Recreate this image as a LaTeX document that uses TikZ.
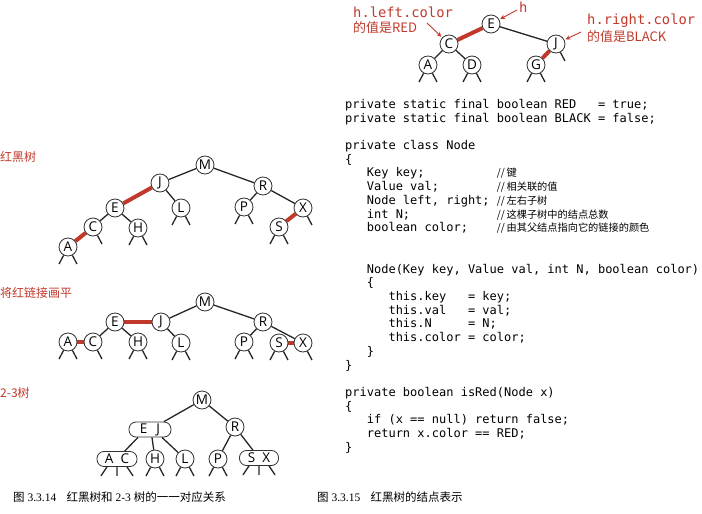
\documentclass[tikz,border=0pt]{standalone}
\usepackage{fontspec}
\usepackage{tikz}
\usetikzlibrary{arrows.meta, positioning, backgrounds}
\setmainfont{Liberation Serif}
\newfontfamily\cjk{Noto Sans CJK SC}
\newfontfamily\codefont{DejaVu Sans Mono}
\newfontfamily\keyfont{Open Sans}
\definecolor{linkred}{RGB}{192, 57, 43}
\definecolor{nodeline}{RGB}{50, 50, 50}

\tikzset{
  key/.style={circle, draw=nodeline, line width=0.8pt, fill=white, minimum size=18pt,
    inner sep=0pt, font=\keyfont\fontsize{13.5}{14}\selectfont},
  keys/.style={rectangle, rounded corners=7pt, draw=nodeline, line width=0.8pt, fill=white,
    minimum height=15pt, inner sep=0pt, font=\keyfont\fontsize{13.5}{14}\selectfont},
  link/.style={line width=1.3pt, black!85},
  redlink/.style={line width=4pt, linkred},
  tag/.style={text=linkred, inner sep=0pt, anchor=west, font=\cjk\fontsize{12}{14}\selectfont},
  codetag/.style={text=linkred, inner sep=0pt, anchor=west, font=\codefont\fontsize{13.8}{16}\selectfont},
  valtag/.style={text=linkred, inner sep=0pt, anchor=west, font=\cjk\fontsize{13}{16}\selectfont},
  pointer/.style={linkred, line width=0.9pt, shorten >=1pt, -{Stealth[length=5pt,width=4.5pt]}},
  caption/.style={inner sep=0pt, anchor=west, font=\fontsize{11.5}{14}\selectfont},
  codeblock/.style={inner sep=0pt, anchor=north west, align=left,
    font=\codefont\fontsize{12}{13.72}\selectfont}
}
\newcommand{\nulls}[1]{\draw[link] (#1) -- +(-9,17) (#1) -- +(9,17);}
\newcommand{\nullR}[1]{\draw[link] (#1) -- +(9,17);}
\newcommand{\cmt}[1]{{\cjk\fontsize{10.2}{13.72}\selectfont //\,#1}}

\begin{document}
\begin{tikzpicture}[x=1pt, y=-1pt]
    \useasboundingbox (0,0) rectangle (702,514);

    % Node h with its two links
    \node[key] (hE) at (491,24) {E};
    \node[key] (hC) at (449,44) {C};
    \node[key] (hA) at (428,65) {A};
    \node[key] (hD) at (472,65) {D};
    \node[key] (hJ) at (556,44) {J};
    \node[key] (hG) at (536,65) {G};
    \begin{scope}[on background layer]
        \draw[redlink] (hE) -- (hC);
        \draw[link] (hE) -- (hJ);
        \draw[link] (hC) -- (hA);
        \draw[link] (hC) -- (hD);
        \draw[redlink] (hJ) -- (hG);
    \end{scope}
    \nulls{hA} \nulls{hD} \nulls{hG} \nullR{hJ}

    % Labels pointing into the tree
    \node[codetag] (hleft) at (353,12) {h.left.color};
    \node[valtag] (hleftval) at (353,28) {的值是RED};
    \node[codetag] (hname) at (519,7) {h};
    \node[codetag] (hright) at (587,21) {h.right.color};
    \node[valtag] (hrightval) at (587,37) {的值是BLACK};
    \coordinate (pleft) at (427,23);
    \coordinate (pname) at (517,10);
    \coordinate (pright) at (581,32);
    \draw[pointer] (pleft) -- (hC);
    \draw[pointer] (pname) -- (hE);
    \draw[pointer] (pright) -- (hJ);

    % Red-black tree
    \node[tag] (rbname) at (0,157) {红黑树};
    \node[key] (M1) at (205,165) {M};
    \node[key] (J1) at (160,183) {J};
    \node[key] (R1) at (263,186) {R};
    \node[key] (E1) at (115,208) {E};
    \node[key] (L1) at (181,208) {L};
    \node[key] (P1) at (244,207) {P};
    \node[key] (X1) at (303,208) {X};
    \node[key] (C1) at (93,227) {C};
    \node[key] (H1) at (138,228) {H};
    \node[key] (S1) at (279,227) {S};
    \node[key] (A1) at (68,247) {A};
    \begin{scope}[on background layer]
        \draw[link] (M1) -- (J1);
        \draw[link] (M1) -- (R1);
        \draw[redlink] (J1) -- (E1);
        \draw[link] (J1) -- (L1);
        \draw[link] (E1) -- (C1);
        \draw[link] (E1) -- (H1);
        \draw[redlink] (C1) -- (A1);
        \draw[link] (R1) -- (P1);
        \draw[link] (R1) -- (X1);
        \draw[redlink] (X1) -- (S1);
    \end{scope}
    \nulls{A1} \nullR{C1} \nulls{H1} \nulls{L1} \nulls{P1} \nulls{S1} \nullR{X1}

    % Same tree with red links flat
    \node[tag] (flatname) at (0,293) {将红链接画平};
    \node[key] (M2) at (205,302) {M};
    \node[key] (E2) at (115,322) {E};
    \node[key] (J2) at (161,322) {J};
    \node[key] (R2) at (263,322) {R};
    \node[key] (A2) at (68,342) {A};
    \node[key] (C2) at (93,342) {C};
    \node[key] (H2) at (138,342) {H};
    \node[key] (L2) at (181,343) {L};
    \node[key] (P2) at (244,342) {P};
    \node[key] (S2) at (279,343) {S};
    \node[key] (X2) at (303,343) {X};
    \begin{scope}[on background layer]
        \draw[link] (M2) -- (J2);
        \draw[link] (M2) -- (R2);
        \draw[redlink] (J2) -- (E2);
        \draw[link] (J2) -- (L2);
        \draw[link] (E2) -- (C2);
        \draw[link] (E2) -- (H2);
        \draw[redlink] (C2) -- (A2);
        \draw[link] (R2) -- (P2);
        \draw[link] (R2) -- (X2);
        \draw[redlink] (X2) -- (S2);
    \end{scope}
    \nulls{A2} \nullR{C2} \nulls{H2} \nulls{L2} \nulls{P2} \nulls{S2} \nullR{X2}

    % 2-3 tree
    \node[tag] (ttname) at (0,393) {2-3树};
    \node[key] (M3) at (202,400) {M};
    \node[keys, minimum width=42pt] (EJ3) at (150,429.5) {E\hspace{9pt}J};
    \node[key] (R3) at (235,427) {R};
    \node[keys, minimum width=40pt] (AC3) at (117,459) {A\hspace{7pt}C};
    \node[key] (H3) at (155,459) {H};
    \node[key] (L3) at (185,459) {L};
    \node[key] (P3) at (218,459) {P};
    \node[keys, minimum width=39pt] (SX3) at (259,458) {S\hspace{7pt}X};
    \draw[link] (M3) -- (EJ3);
    \draw[link] (M3) -- (R3);
    \draw[link] ([xshift=-12pt]EJ3.south) -- (AC3);
    \draw[link] ([xshift=2pt]EJ3.south) -- (H3);
    \draw[link] ([xshift=12pt]EJ3.south) -- (L3);
    \draw[link] (R3) -- (P3);
    \draw[link] (R3) -- (SX3);
    \draw[link] ([xshift=-10pt]AC3.south) -- +(-6,9) (AC3.south) -- +(0,9) ([xshift=10pt]AC3.south) -- +(6,9);
    \draw[link] ([xshift=-10pt]SX3.south) -- +(-6,9) (SX3.south) -- +(0,9) ([xshift=10pt]SX3.south) -- +(6,9);
    \nulls{H3} \nulls{L3} \nulls{P3}

    % Node class code
    \node[codeblock] (code) at (345,99) {
        private static final boolean RED~~~= true;\\
        private static final boolean BLACK = false;\\
        \mbox{}\\
        private class Node\\
        \{\\
        ~~~Key key;~~~~~~~~~~\cmt{键}\\
        ~~~Value val;~~~~~~~~\cmt{相关联的值}\\
        ~~~Node left, right;~\cmt{左右子树}\\
        ~~~int N;~~~~~~~~~~~~\cmt{这棵子树中的结点总数}\\
        ~~~boolean color;~~~~\cmt{由其父结点指向它的链接的颜色}\\
        \mbox{}\\
        \mbox{}\\
        ~~~Node(Key key, Value val, int N, boolean color)\\
        ~~~\{\\
        ~~~~~~this.key~~~= key;\\
        ~~~~~~this.val~~~= val;\\
        ~~~~~~this.N~~~~~= N;\\
        ~~~~~~this.color = color;\\
        ~~~\}\\
        \}\\
        \mbox{}\\
        private boolean isRed(Node x)\\
        \{\\
        ~~~if (x == null) return false;\\
        ~~~return x.color == RED;\\
        \}
    };

    % Captions
    \node[caption] (cap1) at (13,497) {{\cjk 图}~3.3.14\hspace{0.9em}{\cjk 红黑树和}~2-3~{\cjk 树的一一对应关系}};
    \node[caption] (cap2) at (317,497) {{\cjk 图}~3.3.15\hspace{0.9em}{\cjk 红黑树的结点表示}};
\end{tikzpicture}
\end{document}
